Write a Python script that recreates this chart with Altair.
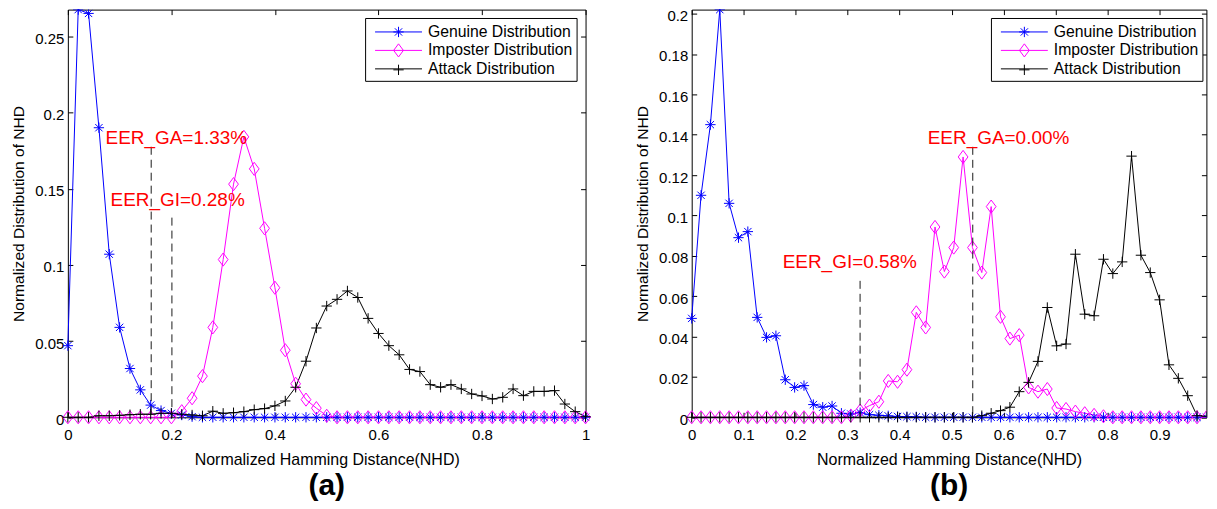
import altair as alt
import pandas as pd

FONT = "Liberation Sans"
SERIES = ["Genuine Distribution", "Imposter Distribution", "Attack Distribution"]
COLORS = ["#0000ff", "#ff00ff", "#000000"]
MARKERS = [
    "M-0.55,0L0.55,0M0,-0.55L0,0.55M-0.39,-0.39L0.39,0.39M-0.39,0.39L0.39,-0.39",
    "M0,-0.7L0.52,0L0,0.7L-0.52,0Z",
    "M-0.55,0L0.55,0M0,-0.55L0,0.55",
]
LEGEND_LINE = "M-2.5,0L2.5,0"

# ---------------- panel (a) ----------------
x_a = [0.0, 0.02, 0.04, 0.06, 0.08, 0.10, 0.12, 0.14, 0.16, 0.18, 0.20,
       0.22, 0.24, 0.26, 0.28, 0.30, 0.32, 0.34, 0.36, 0.38, 0.40,
       0.42, 0.44, 0.46, 0.48, 0.50, 0.52, 0.54, 0.56, 0.58, 0.60,
       0.62, 0.64, 0.66, 0.68, 0.70, 0.72, 0.74, 0.76, 0.78, 0.80,
       0.82, 0.84, 0.86, 0.88, 0.90, 0.92, 0.94, 0.96, 0.98, 1.00]
genuine_a = [0.047, 0.2675, 0.265, 0.190, 0.107, 0.059, 0.032, 0.018, 0.008, 0.0044, 0.0026,
             0.0015, 0.0004, 0, 0, 0, 0, 0, 0, 0, 0,
             0, 0, 0, 0, 0, 0, 0, 0, 0, 0,
             0, 0, 0, 0, 0, 0, 0, 0, 0, 0,
             0, 0, 0, 0, 0, 0, 0, 0, 0, 0]
imposter_a = [0, 0, 0, 0, 0, 0, 0, 0, 0, 0, 0,
              0.004, 0.0125, 0.027, 0.059, 0.1035, 0.153, 0.184, 0.163, 0.124, 0.085,
              0.044, 0.022, 0.0116, 0.006, 0.001, 0, 0, 0, 0, 0,
              0, 0, 0, 0, 0, 0, 0, 0, 0, 0,
              0, 0, 0, 0, 0, 0, 0, 0, 0, 0]
attack_a = [0, 0, 0, 0.001, 0.001, 0.0013, 0.0017, 0.002, 0.002, 0.0026, 0.0026,
            0.002, 0.0015, 0.001, 0.004, 0.0026, 0.003, 0.0037, 0.005, 0.0057, 0.0075,
            0.0107, 0.0197, 0.0368, 0.0586, 0.073, 0.0774, 0.0829, 0.0786, 0.0649, 0.055,
            0.047, 0.041, 0.0314, 0.030, 0.0214, 0.0197, 0.0214, 0.0186, 0.0153, 0.014,
            0.012, 0.0131, 0.0186, 0.0142, 0.017, 0.017, 0.0175, 0.0087, 0.0037, 0.0004]
xticks_a = [0, 0.2, 0.4, 0.6, 0.8, 1]
yticks_a = [0, 0.05, 0.1, 0.15, 0.2, 0.25]
eer_x_a = [0.161, 0.201]
eer_top_a = [0.1775, 0.131]
label_x_a = [0.0728, 0.0824]
label_y_a = [0.183, 0.1426]
label_text_a = ["EER_GA=1.33%", "EER_GI=0.28%"]

# ---------------- panel (b) ----------------
x_b = [0.0, 0.018, 0.036, 0.054, 0.072, 0.09, 0.108, 0.126, 0.144, 0.162,
       0.18, 0.198, 0.216, 0.234, 0.252, 0.27, 0.288, 0.306, 0.324, 0.342,
       0.36, 0.378, 0.396, 0.414, 0.432, 0.45, 0.468, 0.486, 0.504, 0.522,
       0.54, 0.558, 0.576, 0.594, 0.612, 0.63, 0.648, 0.666, 0.684, 0.702,
       0.72, 0.738, 0.756, 0.774, 0.792, 0.81, 0.828, 0.846, 0.864, 0.882,
       0.9, 0.918, 0.936, 0.954, 0.972, 0.99]
genuine_b = [0.049, 0.110, 0.145, 0.202, 0.106, 0.089, 0.092, 0.0495, 0.0396, 0.0404,
             0.0186, 0.0148, 0.0157, 0.0063, 0.005, 0.0056, 0.002, 0.0016, 0.0023, 0.0013,
             0.001, 0.0007, 0.0004, 0.0003, 0.0002, 0, 0, 0, 0, 0,
             0, 0, 0, 0, 0, 0, 0, 0, 0, 0,
             0, 0, 0, 0, 0, 0, 0, 0, 0, 0,
             0, 0, 0, 0, 0, 0]
imposter_b = [0, 0, 0, 0, 0, 0, 0, 0, 0, 0,
              0, 0, 0, 0, 0, 0, 0, 0.0008, 0.0033, 0.0058,
              0.0077, 0.018, 0.0176, 0.0236, 0.052, 0.0445, 0.0943, 0.0722, 0.0841, 0.129,
              0.0841, 0.0717, 0.1044, 0.0498, 0.039, 0.0407, 0.0148, 0.0127, 0.014, 0.0046,
              0.0041, 0.0028, 0.002, 0.0012, 0.0005, 0, 0, 0, 0, 0,
              0, 0, 0, 0, 0, 0]
attack_b = [0, 0, 0, 0, 0, 0, 0, 0, 0, 0,
            0, 0, 0, 0, 0, 0, 0, 0, 0, 0,
            0, 0, 0, 0, 0, 0, 0, 0, 0, 0,
            0, 0.0008, 0.002, 0.0033, 0.005, 0.0127, 0.0173, 0.0277, 0.0544, 0.0354,
            0.0363, 0.0808, 0.0511, 0.0503, 0.0783, 0.0712, 0.077, 0.1294, 0.0803, 0.0717,
            0.0582, 0.026, 0.0193, 0.0107, 0.0008, 0.0005]
xticks_b = [0, 0.1, 0.2, 0.3, 0.4, 0.5, 0.6, 0.7, 0.8, 0.9]
yticks_b = [0, 0.02, 0.04, 0.06, 0.08, 0.1, 0.12, 0.14, 0.16, 0.18, 0.2]
eer_x_b = [0.3239, 0.5406]
eer_top_b = [0.0676, 0.134]
label_x_b = [0.175, 0.454]
label_y_b = [0.0769, 0.1384]
label_text_b = ["EER_GI=0.58%", "EER_GA=0.00%"]


def make_panel(xs, series_vals, xdom, xticks, ydom, yticks, eer_x, eer_top,
               lab_x, lab_y, lab_text, width, height, tag, leg_x, leg_y, clip_x):
    rows = []
    for name, vals in zip(SERIES, series_vals):
        for x, v in zip(xs, vals):
            rows.append({"x": x, "value": v, "series": name, "sline": name})
    df = pd.DataFrame(rows)
    df_eer = pd.DataFrame({"x": eer_x, "top": eer_top})
    df_lab = pd.DataFrame({"x": lab_x, "y": lab_y, "label": lab_text})
    clip_y = 0.9 * ydom[1]

    xsc = alt.Scale(domain=xdom, nice=False, zero=False)
    ysc = alt.Scale(domain=ydom, nice=False)

    common = dict(tickSize=5, offset=-5, domain=False, grid=False, tickColor="black",
                  tickWidth=1, labelFont=FONT, labelFontSize=15, labelColor="black",
                  titleFont=FONT, titleFontWeight="normal", minExtent=0,
                  titleColor="black", labelFlush=False, labelOverlap=False, labelBound=False)
    ax_bottom = alt.Axis(orient="bottom", values=xticks, format="~g", labelPadding=10,
                         title="Normalized Hamming Distance(NHD)", titlePadding=9,
                         titleFontSize=16, **common)
    ax_left = alt.Axis(orient="left", values=yticks, format="~g", labelPadding=4,
                       labelOffset=2,
                       title="Normalized Distribution of NHD", titlePadding=8,
                       titleFontSize=15.6, **common)
    ax_top = alt.Axis(orient="top", values=xticks, labels=False, title=None, **common)
    ax_right = alt.Axis(orient="right", values=yticks, labels=False, title=None, **common)

    leg_common = dict(title=None, orient="none", legendX=leg_x, legendY=leg_y,
                      symbolSize=354, symbolStrokeWidth=1, symbolOffset=19.5,
                      labelOffset=19.5, padding=4, rowPadding=0.5, labelFont=FONT,
                      labelFontSize=15.8, labelLimit=400)
    leg_line = alt.Legend(symbolType=LEGEND_LINE, labelColor="black", strokeColor="black",
                          fillColor="white", cornerRadius=0, **leg_common)
    leg_mark = alt.Legend(labelExpr="' '", **leg_common)

    lines = alt.Chart(df).mark_line(strokeWidth=1).encode(
        x=alt.X("x:Q", scale=xsc, axis=ax_bottom),
        y=alt.Y("value:Q", scale=ysc, axis=ax_left),
        color=alt.Color("sline:N", sort=SERIES, scale=alt.Scale(range=COLORS), legend=leg_line),
    )
    point_enc = dict(
        x=alt.X("x:Q", scale=xsc, axis=None),
        y=alt.Y("value:Q", scale=ysc, axis=None),
        stroke=alt.Stroke("series:N", scale=alt.Scale(domain=SERIES, range=COLORS), legend=leg_mark),
        shape=alt.Shape("series:N", scale=alt.Scale(domain=SERIES, range=MARKERS), legend=leg_mark),
    )
    points_in = alt.Chart(df).mark_point(filled=False, size=354, strokeWidth=1, opacity=1).encode(
        **point_enc
    ).transform_filter((alt.datum.value < clip_y) & (alt.datum.x < clip_x))
    points_edge = alt.Chart(df).mark_point(filled=False, size=354, strokeWidth=1, opacity=1,
                                           clip=True).encode(
        **point_enc
    ).transform_filter((alt.datum.value >= clip_y) | (alt.datum.x >= clip_x))
    rules = alt.Chart(df_eer).mark_rule(strokeDash=[8, 5], color="#1a1a1a", strokeWidth=1).encode(
        x=alt.X("x:Q", scale=xsc, axis=ax_top),
        y=alt.Y("top:Q", scale=ysc, axis=ax_right),
        y2=alt.datum(0),
    )
    texts = alt.Chart(df_lab).mark_text(align="left", baseline="middle", color="#ff0000",
                                        font=FONT, fontSize=19).encode(
        x=alt.X("x:Q", scale=xsc, axis=None),
        y=alt.Y("y:Q", scale=ysc, axis=None),
        text="label:N",
    )
    return alt.layer(lines, points_in, points_edge, rules, texts).resolve_axis(
        x="independent", y="independent"
    ).properties(
        width=width, height=height,
        title=alt.TitleParams(tag, orient="bottom", font=FONT, fontSize=30, fontWeight="bold",
                              color="black", frame="group", anchor="middle", offset=4),
    )


panel_a = make_panel(x_a, [genuine_a, imposter_a, attack_a], [0, 1], xticks_a, [0, 0.2675], yticks_a,
                     eer_x_a, eer_top_a, label_x_a, label_y_a, label_text_a, 519, 408.7, "(a)",
                     298, 8.4, 2)
panel_b = make_panel(x_b, [genuine_b, imposter_b, attack_b], [0, 0.99], xticks_b, [0, 0.202], yticks_b,
                     eer_x_b, eer_top_b, label_x_b, label_y_b, label_text_b, 516, 408.7, "(b)",
                     300, 8.4, 0.985)

chart = alt.hconcat(panel_a, panel_b, spacing=106.4, bounds="flush").resolve_scale(
    color="independent", stroke="independent", shape="independent"
).properties(
    padding={"left": 3, "top": -2, "right": 0, "bottom": 0},
    background="white",
).configure_view(stroke="black", strokeWidth=1)

chart.save("out.html", embed_options={"renderer": "svg", "actions": False})
